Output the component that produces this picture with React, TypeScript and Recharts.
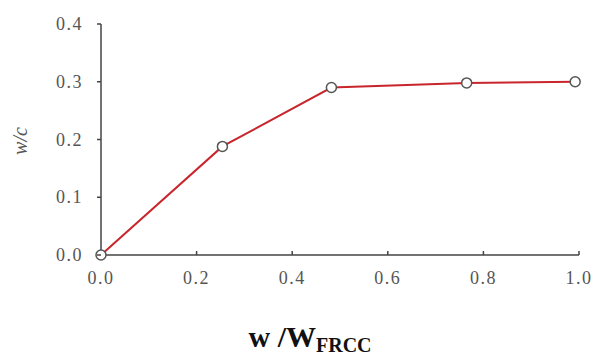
import { CartesianGrid, Label, Line, LineChart, XAxis, YAxis } from "recharts";

const wRatio = [0, 0.254, 0.482, 0.765, 0.992];
const wcValues = [0, 0.188, 0.29, 0.298, 0.3];
const xTicks = [0, 0.2, 0.4, 0.6, 0.8, 1.0];
const yTicks = [0, 0.1, 0.2, 0.3, 0.4];

const data = wRatio.map((x, i) => ({ x, wc: wcValues[i] }));

const serif = "'Liberation Serif', 'Times New Roman', serif";

function XTick(props: any) {
  const { x, y, payload } = props;
  return (
    <g>
      {payload.value > 0 && (
        <line x1={x} y1={y} x2={x} y2={y - 4} stroke="#444" strokeWidth={1.5} />
      )}
      <text
        x={x}
        y={y + 29}
        textAnchor="middle"
        style={{ fontFamily: serif, fontSize: 18, letterSpacing: 1.5 }}
        fill="#555"
      >
        {payload.value.toFixed(1)}
      </text>
    </g>
  );
}

function YTick(props: any) {
  const { x, y, payload } = props;
  return (
    <g>
      <line x1={x + 14} y1={y} x2={x + 18} y2={y} stroke="#444" strokeWidth={1.5} />
      <text
        x={x}
        y={y + 6}
        textAnchor="end"
        style={{ fontFamily: serif, fontSize: 18, letterSpacing: 1.5 }}
        fill="#555"
      >
        {Number(payload.value).toFixed(1)}
      </text>
    </g>
  );
}

function XTitle() {
  return (
    <text
      x={310}
      y={347}
      textAnchor="middle"
      style={{ fontFamily: serif, fontWeight: "bold" }}
      fill="#111"
    >
      <tspan fontSize={30}>w /W</tspan>
      <tspan fontSize={20} dy={5}>
        FRCC
      </tspan>
    </text>
  );
}

function YTitle() {
  return (
    <text
      x={0}
      y={0}
      transform="translate(27, 141) rotate(-90)"
      textAnchor="middle"
      style={{ fontFamily: serif, fontStyle: "italic", fontSize: 20 }}
      fill="#555"
    >
      w/c
    </text>
  );
}

export default function App() {
  return (
    <div style={{ position: "absolute", left: 0, top: 0, background: "#fff" }}>
      <LineChart
        width={598}
        height={356}
        data={data}
        margin={{ top: 24, right: 19, left: 0, bottom: 0 }}
      >
        <CartesianGrid stroke="none" />
        <XAxis
          dataKey="x"
          type="number"
          domain={[0, 1]}
          ticks={xTicks}
          tickSize={0}
          tickMargin={0}
          tick={<XTick />}
          stroke="#444"
          strokeWidth={1.5}
          height={101}
          interval={0}
        >
          <Label content={<XTitle />} />
        </XAxis>
        <YAxis
          type="number"
          domain={[0, 0.4]}
          ticks={yTicks}
          width={101}
          tickSize={0}
          tickMargin={18}
          stroke="#444"
          strokeWidth={1.5}
          interval={0}
          tick={<YTick />}
        >
          <Label content={<YTitle />} />
        </YAxis>
        <Line
          dataKey="wc"
          type="linear"
          stroke="#c8252c"
          strokeWidth={2}
          isAnimationActive={false}
          dot={{ r: 5, fill: "#fff", stroke: "#555", strokeWidth: 1.5 }}
        />
      </LineChart>
    </div>
  );
}
